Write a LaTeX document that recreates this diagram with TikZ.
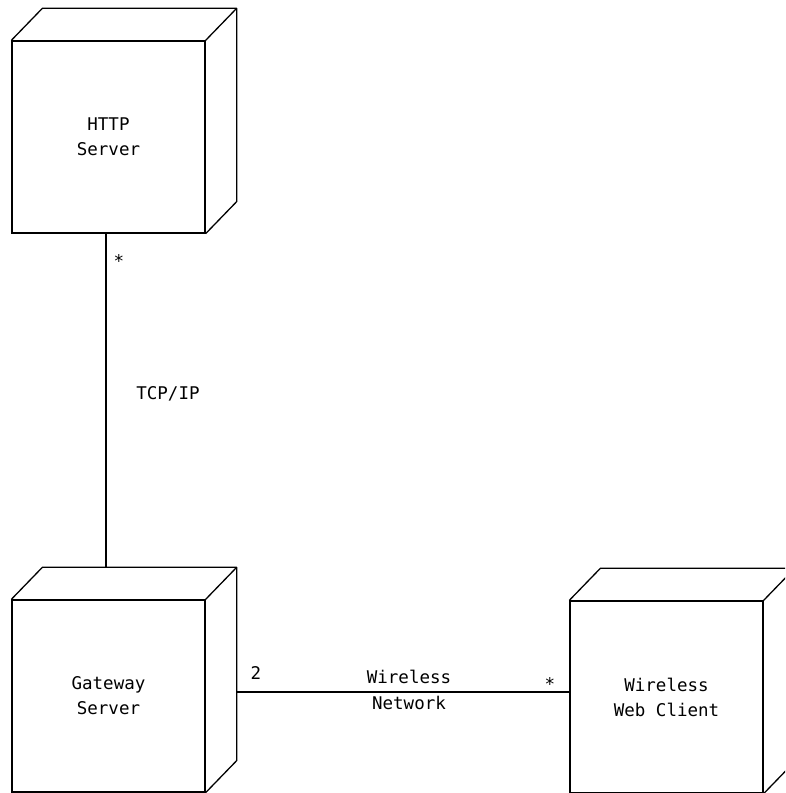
\documentclass[tikz,border=0pt]{standalone}
\usepackage{fontspec}
\setmainfont{DejaVu Sans Mono}
\usetikzlibrary{calc}
\begin{document}
\begin{tikzpicture}[x=1pt,y=1pt,
  line width=1.3pt,
  umlnode/.style={draw, minimum width=193pt, minimum height=192pt, align=center,
    font=\fontsize{17.5}{25}\selectfont, inner sep=0pt},
  lbl/.style={font=\fontsize{17.5}{26}\selectfont, inner sep=0pt, align=center}]
\useasboundingbox (0,0) rectangle (785,793);
\clip (0,0) rectangle (785,793);
\def\dx{31}\def\dy{32}
% nodes
\node[umlnode] (http) at (108.5,656) {HTTP\\Server};
\node[umlnode] (gw) at (108.5,97) {Gateway\\Server};
\node[umlnode] (client) at (666.5,96) {Wireless\\Web Client};
% 3D parts
\foreach \n in {http,gw,client}{
  \draw[line join=round] (\n.north west) -- ++(\dx,\dy) -- ($(\n.north east)+(\dx,\dy)$)
    -- ($(\n.south east)+(\dx,\dy)$) -- (\n.south east);
  \draw (\n.north east) -- ++(\dx,\dy);
}
% connectors
\coordinate (httpb) at ($(http.south)+(-2.5,0)$);
\coordinate (gwt) at ($(gw.north)+(0,\dy)$);
\draw (httpb) -- (httpb |- gwt);
\coordinate (gwr) at ($(gw.east)+(\dx,4)$);
\draw (gwr) -- (client.west |- gwr);
% labels
\node[lbl] (m1) at (119,532) {*};
\node[lbl] (tcp) at (168,399) {TCP/IP};
\node[lbl] (m2) at (256,120) {2};
\node[lbl] (wn) at (409,103) {Wireless\\Network};
\node[lbl] (m3) at (550,109) {*};
\end{tikzpicture}
\end{document}
